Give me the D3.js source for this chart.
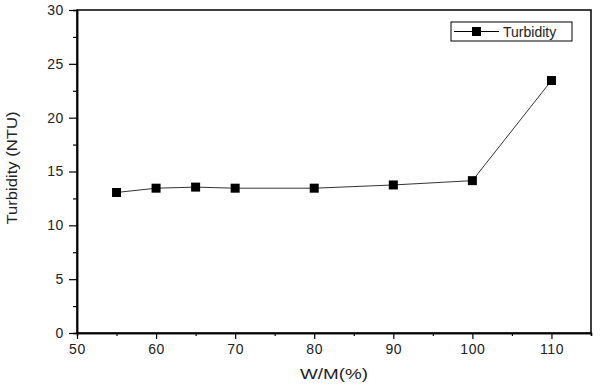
<!DOCTYPE html>
<html>
<head>
<meta charset="utf-8">
<script src="https://cdn.jsdelivr.net/npm/d3@7"></script>
<style>
  body { margin: 0; background: #fff; }
  svg { font-family: "Liberation Sans", Arial, sans-serif; }
</style>
</head>
<body>
<svg id="chart" width="600" height="387"></svg>
<script>
const ratios = [55, 60, 65, 70, 80, 90, 100, 110];
const turbidity = [13.05, 13.45, 13.55, 13.45, 13.45, 13.75, 14.15, 23.45];
const xTicks = [50, 60, 70, 80, 90, 100, 110];
const yTicks = [0, 5, 10, 15, 20, 25, 30];
const seriesName = 'Turbidity';

const margin = { top: 10, right: 9, bottom: 54, left: 77 };
const width = 600, height = 387;

const svg = d3.select('#chart');

const x = d3.scaleLinear().domain([50, 115]).range([margin.left, width - margin.right]);
const y = d3.scaleLinear().domain([0, 30]).range([height - margin.bottom, margin.top]);

// frame
svg.append('rect')
  .attr('x', x(50)).attr('y', y(30))
  .attr('width', x(115) - x(50)).attr('height', y(0) - y(30))
  .attr('fill', 'none').attr('stroke', '#000').attr('stroke-width', 1.5);

// x axis: major + minor ticks
const xAxis = svg.append('g').attr('transform', `translate(0,${y(0)})`);
xAxis.call(d3.axisBottom(x).tickValues(xTicks).tickSize(6).tickSizeOuter(0).tickPadding(5));
xAxis.append('g').call(d3.axisBottom(x).tickValues(d3.range(55, 116, 10)).tickSize(3).tickFormat(''));
xAxis.selectAll('.domain').attr('stroke-width', 1.5);
xAxis.selectAll('.tick line').attr('stroke-width', 1.2);
xAxis.selectAll('text').attr('font-size', 14).attr('letter-spacing', 0.6).attr('fill', '#222');

// y axis: major + minor ticks
const yAxis = svg.append('g').attr('transform', `translate(${x(50)},0)`);
yAxis.call(d3.axisLeft(y).tickValues(yTicks).tickSize(8).tickSizeOuter(0).tickPadding(5));
yAxis.append('g').call(d3.axisLeft(y).tickValues(d3.range(2.5, 30, 5)).tickSize(4).tickFormat(''));
yAxis.selectAll('.domain').attr('stroke-width', 1.5);
yAxis.selectAll('.tick line').attr('stroke-width', 1.2);
yAxis.selectAll('text').attr('font-size', 14).attr('letter-spacing', 0.6).attr('fill', '#222');

// axis titles
svg.append('text')
  .attr('x', 334).attr('y', 379)
  .attr('text-anchor', 'middle').attr('font-size', 15).attr('fill', '#222')
  .attr('textLength', 68).attr('lengthAdjust', 'spacingAndGlyphs')
  .text('W/M(%)');
svg.append('text')
  .attr('transform', `translate(17,168) rotate(-90)`)
  .attr('text-anchor', 'middle').attr('font-size', 15).attr('fill', '#222')
  .attr('textLength', 113).attr('lengthAdjust', 'spacingAndGlyphs')
  .text('Turbidity (NTU)');

// series
const pts = ratios.map((r, i) => ({ r, v: turbidity[i] }));
svg.append('path')
  .datum(pts)
  .attr('fill', 'none').attr('stroke', '#333').attr('stroke-width', 1)
  .attr('d', d3.line().x(d => x(d.r)).y(d => y(d.v)));

const ms = 9;
svg.selectAll('.pt').data(pts).join('rect')
  .attr('class', 'pt')
  .attr('x', d => x(d.r) - ms / 2).attr('y', d => y(d.v) - ms / 2)
  .attr('width', ms).attr('height', ms).attr('fill', '#000');

// legend
const lg = svg.append('g').attr('transform', 'translate(451,22)');
lg.append('rect').attr('width', 121).attr('height', 19)
  .attr('fill', '#fff').attr('stroke', '#000').attr('stroke-width', 1);
lg.append('line').attr('x1', 3).attr('x2', 48).attr('y1', 9.5).attr('y2', 9.5)
  .attr('stroke', '#000').attr('stroke-width', 1);
lg.append('rect').attr('x', 21).attr('y', 5).attr('width', 9).attr('height', 9).attr('fill', '#000');
lg.append('text').attr('x', 52).attr('y', 15).attr('font-size', 14).attr('fill', '#222')
  .text(seriesName);
</script>
</body>
</html>
